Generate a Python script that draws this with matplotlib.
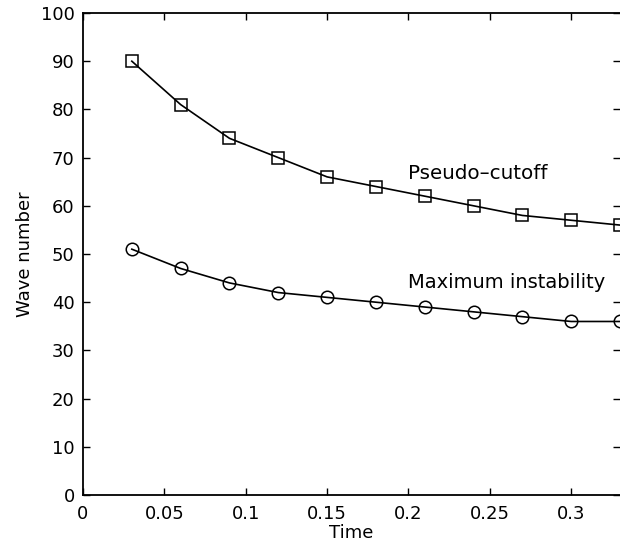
import matplotlib.pyplot as plt

plt.rcParams['font.family'] = ['DejaVu Sans']

# Time samples and the two wave number curves
time = [0.03, 0.06, 0.09, 0.12, 0.15, 0.18, 0.21, 0.24, 0.27, 0.30, 0.33]
cutoff = [90, 81, 74, 70, 66, 64, 62, 60, 58, 57, 56]
max_instab = [51, 47, 44, 42, 41, 40, 39, 38, 37, 36, 36]

fig = plt.figure(figsize=(6.2, 5.5), dpi=100)
ax = fig.add_axes([83/620, 55/550, 537/620, 482/550])

ax.plot(time, cutoff, color='black', lw=1.2, marker='s', ms=8,
        mfc='none', mec='black', mew=1.1, clip_on=False)
ax.plot(time, max_instab, color='black', lw=1.2, marker='o', ms=9,
        mfc='none', mec='black', mew=1.1, clip_on=False)

ax.text(0.2, 65.6, 'Pseudo\u2013cutoff', fontsize=14.3, va='baseline', ha='left')
ax.text(0.1995, 43.0, 'Maximum instability', fontsize=14, va='baseline', ha='left')

ax.set_xlim(0, 0.33)
ax.set_ylim(0, 100)
ax.set_xticks([0, 0.05, 0.1, 0.15, 0.2, 0.25, 0.3])
ax.set_xticklabels(['0', '0.05', '0.1', '0.15', '0.2', '0.25', '0.3'])
ax.set_yticks(range(0, 101, 10))
ax.tick_params(direction='in', length=5, width=1.0, labelsize=13,
               top=True, right=True)
ax.tick_params(axis='x', pad=7)
ax.tick_params(axis='y', pad=6)
ax.spines['right'].set_visible(False)
for s in ['left', 'bottom', 'top']:
    ax.spines[s].set_linewidth(1.3)

ax.set_xlabel('Time', fontsize=13, labelpad=1)
ax.set_ylabel('Wave number', fontsize=13, labelpad=5)

fig.savefig('out.png', dpi=100)
